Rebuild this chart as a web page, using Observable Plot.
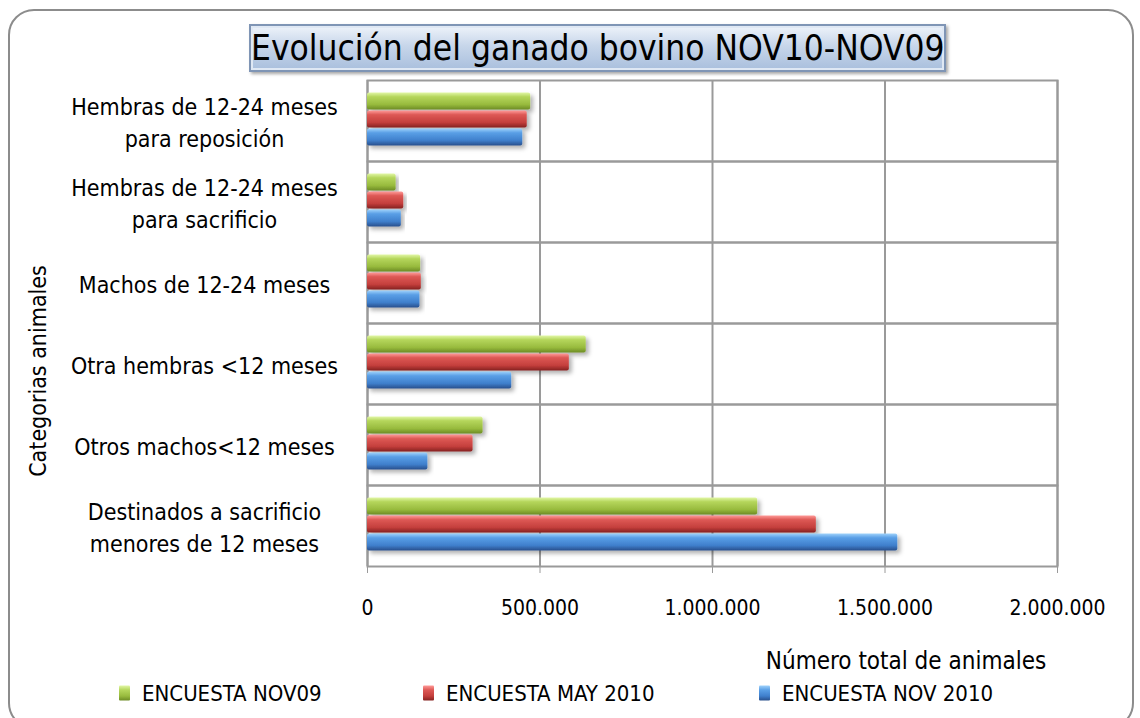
<!DOCTYPE html>
<html>
<head>
<meta charset="utf-8">
<script src="https://cdn.jsdelivr.net/npm/d3@7"></script>
<script src="https://cdn.jsdelivr.net/npm/@observablehq/plot@0.6"></script>
<style>
  html, body { margin: 0; padding: 0; background: #fff; }
  #wrap { position: relative; width: 1140px; height: 718px; overflow: hidden; font-family: "DejaVu Sans Condensed", "DejaVu Sans", sans-serif; color: #000; }
  #frame { position: absolute; left: 8px; top: 9px; width: 1126px; height: 720px; border: 2px solid #8c8c8c; border-radius: 26px; box-sizing: border-box; }
  #title { position: absolute; left: 249px; top: 24px; width: 697px; height: 48px; box-sizing: border-box;
    border: 2px solid #7f95b5; background: linear-gradient(#eef3fa, #c7d6ea 45%, #a9bfdd);
    box-shadow: inset 0 0 0 2px #dfe8f4, 2px 2px 3px rgba(0,0,0,0.35);
    font-size: 35px; line-height: 44px; text-align: center; white-space: nowrap; }
  #ylab { position: absolute; left: 38px; top: 371px; transform: translate(-50%, -50%) rotate(-90deg); font-size: 23px; white-space: nowrap; }
  #xlab { position: absolute; left: 906px; top: 661px; transform: translate(-50%, -50%); font-size: 24px; white-space: nowrap; }
  .leg { position: absolute; top: 693px; transform: translateY(-50%); font-size: 22px; white-space: nowrap; display: flex; align-items: center; }
  .sw { display: inline-block; width: 11px; height: 15px; margin-right: 12px; border-radius: 1px; }
  svg { position: absolute; left: 0; top: 0; }
</style>
</head>
<body>
<div id="wrap">
  <div id="frame"></div>
</div>
<script>
// ---- data ----
const categories = [
  "Hembras de 12-24 meses\npara reposición",
  "Hembras de 12-24 meses\npara sacrificio",
  "Machos de 12-24 meses",
  "Otra hembras <12 meses",
  "Otros machos<12 meses",
  "Destinados a sacrificio\nmenores de 12 meses"
];
const seriesNames = ["ENCUESTA NOV09", "ENCUESTA MAY 2010", "ENCUESTA NOV 2010"];
const nov09   = [473000,  83000, 154000, 634000, 335000, 1131000];
const may2010 = [463000, 105000, 156000, 585000, 306000, 1301000];
const nov2010 = [450000,  98000, 152000, 418000, 175000, 1537000];
const xTicks = [0, 500000, 1000000, 1500000, 2000000];
const titleText = "Evolución del ganado bovino NOV10-NOV09";
const yLabel = "Categorias animales";
const xLabel = "Número total de animales";

// ---- table ----
const seriesValues = [nov09, may2010, nov2010];
const rows = [];
categories.forEach((c, i) => seriesNames.forEach((s, j) => rows.push({category: c, series: s, value: seriesValues[j][i]})));

const gradIds = ["gGreen", "gRed", "gBlue"];
const gradStops = [
  ["#e2f7a6", "#b5d65c", "#98bb3e", "#6d8c25"],
  ["#ff9a98", "#dd5855", "#c43f3c", "#852220"],
  ["#9fd2fb", "#5a9fe6", "#3f7fcc", "#284f8c"]
];
const fmt = d3.formatLocale({decimal: ",", thousands: ".", grouping: [3], currency: ["", ""]}).format(",d");

const chart = Plot.plot({
  width: 1140,
  height: 718,
  marginLeft: 367,
  marginRight: 83,
  marginTop: 80,
  marginBottom: 152,
  style: {fontFamily: "'DejaVu Sans Condensed', 'DejaVu Sans', sans-serif", fontSize: "21px", color: "#000", background: "transparent"},
  fy: {domain: categories, padding: 0, label: null},
  y: {domain: seriesNames, paddingInner: 0, paddingOuter: 0.71, align: 0.46, axis: null},
  x: {domain: [0, 2000000], label: null},
  color: {domain: seriesNames, range: gradIds.map(id => `url(#${id})`)},
  marks: [
    Plot.frame({stroke: "#9a9a9a", strokeWidth: 2}),
    Plot.gridX({ticks: xTicks, stroke: "#9a9a9a", strokeOpacity: 1, strokeWidth: 2}),
    Plot.barX(rows, {fy: "category", y: "series", x: "value", fill: "series", stroke: null, rx: 2, insetTop: 0.5, insetBottom: 0.5}),
    Plot.axisX({ticks: xTicks, tickFormat: fmt, tickSize: 7, tickPadding: 27, stroke: "#9a9a9a", fontSize: 21, label: null}),
    Plot.axisFy({anchor: "left", tickSize: 0, tickPadding: 0, textAnchor: "middle", dx: -163, lineHeight: 1.4, fontSize: 23, label: null})
  ]
});

// gradients
const svgNS = "http://www.w3.org/2000/svg";
const defs = document.createElementNS(svgNS, "defs");
gradIds.forEach((id, k) => {
  const g = document.createElementNS(svgNS, "linearGradient");
  g.setAttribute("id", id);
  g.setAttribute("x1", "0"); g.setAttribute("y1", "0"); g.setAttribute("x2", "0"); g.setAttribute("y2", "1");
  [0, 0.25, 0.7, 1].forEach((o, m) => {
    const s = document.createElementNS(svgNS, "stop");
    s.setAttribute("offset", o);
    s.setAttribute("stop-color", gradStops[k][m]);
    g.appendChild(s);
  });
  defs.appendChild(g);
});
const filt = document.createElementNS(svgNS, "filter");
filt.setAttribute("id", "shadow");
filt.setAttribute("x", "-5%"); filt.setAttribute("y", "-30%"); filt.setAttribute("width", "115%"); filt.setAttribute("height", "180%");
filt.innerHTML = '<feDropShadow dx="3" dy="3" stdDeviation="2" flood-color="#000" flood-opacity="0.3"/>';
defs.appendChild(filt);
chart.insertBefore(defs, chart.firstChild);
chart.querySelectorAll("g[aria-label='bar'] rect").forEach(r => r.setAttribute("filter", "url(#shadow)"));

const wrap = document.getElementById("wrap");
wrap.appendChild(chart);

const t = document.createElement("div"); t.id = "title"; t.textContent = titleText; wrap.appendChild(t);
const yl = document.createElement("div"); yl.id = "ylab"; yl.textContent = yLabel; wrap.appendChild(yl);
const xl = document.createElement("div"); xl.id = "xlab"; xl.textContent = xLabel; wrap.appendChild(xl);

const legX = [119, 423, 759];
seriesNames.forEach((s, k) => {
  const d = document.createElement("div");
  d.className = "leg";
  d.style.left = legX[k] + "px";
  const sw = document.createElement("span");
  sw.className = "sw";
  sw.style.background = `linear-gradient(${gradStops[k][0]}, ${gradStops[k][1]} 30%, ${gradStops[k][2]} 70%, ${gradStops[k][3]})`;
  d.appendChild(sw);
  d.appendChild(document.createTextNode(s));
  wrap.appendChild(d);
});
</script>
</body>
</html>
